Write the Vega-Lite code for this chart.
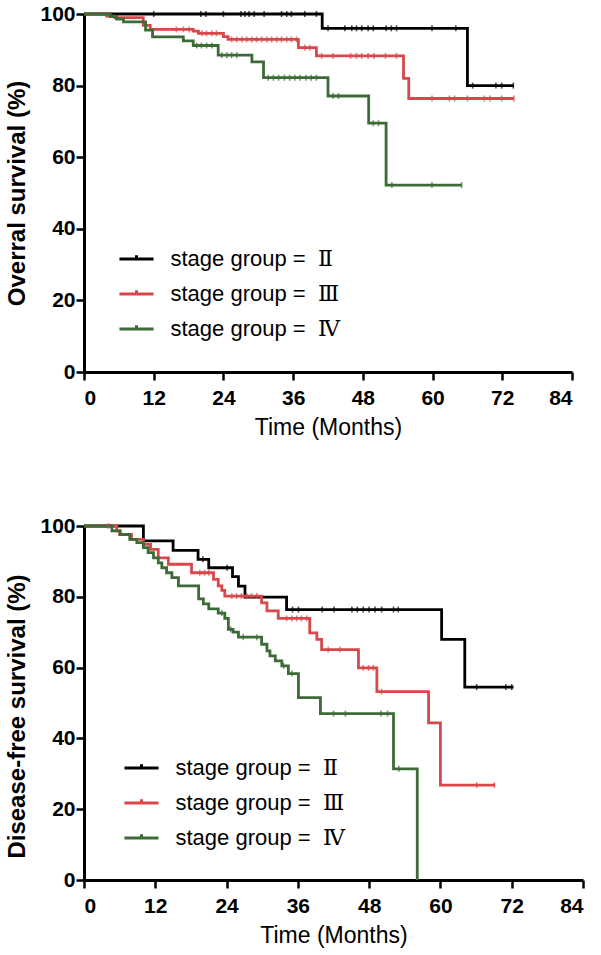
{
  "$schema": "https://vega.github.io/schema/vega-lite/v6.json",
  "padding": {"left": 5, "top": 3, "right": 5, "bottom": 5},
  "spacing": 76,
  "background": "white",
  "config": {
    "view": {"stroke": null},
    "axis": {
      "grid": false,
      "domainColor": "black",
      "domainWidth": 3,
      "tickColor": "black",
      "tickWidth": 2.5,
      "tickSize": 8,
      "labelFont": "Liberation Sans",
      "labelFontWeight": "bold",
      "labelFontSize": 21,
      "labelColor": "black",
      "titleFont": "Liberation Sans",
      "titleColor": "black",
      "titleFontSize": 23
    },
    "legend": {"labelLimit": 400}
  },
  "datasets": {
    "os_lines": [
      {"g": "Ⅱ", "t": 0, "s": 100}, {"g": "Ⅱ", "t": 41, "s": 96}, {"g": "Ⅱ", "t": 66, "s": 80}, {"g": "Ⅱ", "t": 74, "s": 80},
      {"g": "Ⅲ", "t": 0, "s": 100}, {"g": "Ⅲ", "t": 3.9, "s": 99.4}, {"g": "Ⅲ", "t": 5.3, "s": 99.0}, {"g": "Ⅲ", "t": 10.2, "s": 96.8},
      {"g": "Ⅲ", "t": 11.4, "s": 95.7}, {"g": "Ⅲ", "t": 18.8, "s": 95.2}, {"g": "Ⅲ", "t": 19.7, "s": 94.6}, {"g": "Ⅲ", "t": 24, "s": 93.7},
      {"g": "Ⅲ", "t": 24.8, "s": 92.9}, {"g": "Ⅲ", "t": 36.9, "s": 90.6}, {"g": "Ⅲ", "t": 40, "s": 88.3}, {"g": "Ⅲ", "t": 55, "s": 82},
      {"g": "Ⅲ", "t": 55.9, "s": 76.4}, {"g": "Ⅲ", "t": 74, "s": 76.4},
      {"g": "Ⅳ", "t": 0, "s": 100}, {"g": "Ⅳ", "t": 4.5, "s": 99.3}, {"g": "Ⅳ", "t": 5.6, "s": 98.6}, {"g": "Ⅳ", "t": 6.8, "s": 97.8},
      {"g": "Ⅳ", "t": 10.6, "s": 95.5}, {"g": "Ⅳ", "t": 11.8, "s": 93.6}, {"g": "Ⅳ", "t": 17.1, "s": 92.5}, {"g": "Ⅳ", "t": 18.8, "s": 91.2},
      {"g": "Ⅳ", "t": 23.1, "s": 88.5}, {"g": "Ⅳ", "t": 28.9, "s": 86.6}, {"g": "Ⅳ", "t": 30.9, "s": 82.2}, {"g": "Ⅳ", "t": 42, "s": 77.1},
      {"g": "Ⅳ", "t": 49, "s": 69.5}, {"g": "Ⅳ", "t": 52, "s": 52.2}, {"g": "Ⅳ", "t": 65, "s": 52.2}
    ],
    "os_cens": [
      {"g": "Ⅱ", "t": 12, "s": 100}, {"g": "Ⅱ", "t": 20.1, "s": 100}, {"g": "Ⅱ", "t": 21, "s": 100}, {"g": "Ⅱ", "t": 24, "s": 100},
      {"g": "Ⅱ", "t": 27, "s": 100}, {"g": "Ⅱ", "t": 27.7, "s": 100}, {"g": "Ⅱ", "t": 28.4, "s": 100}, {"g": "Ⅱ", "t": 29.3, "s": 100},
      {"g": "Ⅱ", "t": 31, "s": 100}, {"g": "Ⅱ", "t": 34, "s": 100}, {"g": "Ⅱ", "t": 34.9, "s": 100}, {"g": "Ⅱ", "t": 35.7, "s": 100},
      {"g": "Ⅱ", "t": 38, "s": 100}, {"g": "Ⅱ", "t": 40, "s": 100},
      {"g": "Ⅱ", "t": 42, "s": 96}, {"g": "Ⅱ", "t": 44.9, "s": 96}, {"g": "Ⅱ", "t": 46.1, "s": 96}, {"g": "Ⅱ", "t": 46.9, "s": 96},
      {"g": "Ⅱ", "t": 47.8, "s": 96}, {"g": "Ⅱ", "t": 48.9, "s": 96}, {"g": "Ⅱ", "t": 49.8, "s": 96}, {"g": "Ⅱ", "t": 52, "s": 96},
      {"g": "Ⅱ", "t": 52.9, "s": 96}, {"g": "Ⅱ", "t": 53.8, "s": 96}, {"g": "Ⅱ", "t": 59.9, "s": 96}, {"g": "Ⅱ", "t": 64, "s": 96},
      {"g": "Ⅱ", "t": 66.9, "s": 80}, {"g": "Ⅱ", "t": 70.9, "s": 80}, {"g": "Ⅱ", "t": 71.9, "s": 80}, {"g": "Ⅱ", "t": 73.9, "s": 80},
      {"g": "Ⅲ", "t": 15.9, "s": 95.7}, {"g": "Ⅲ", "t": 17.1, "s": 95.7}, {"g": "Ⅲ", "t": 18.1, "s": 95.7},
      {"g": "Ⅲ", "t": 20.3, "s": 94.6}, {"g": "Ⅲ", "t": 21.1, "s": 94.6}, {"g": "Ⅲ", "t": 22, "s": 94.6}, {"g": "Ⅲ", "t": 22.8, "s": 94.6},
      {"g": "Ⅲ", "t": 25.4, "s": 92.9}, {"g": "Ⅲ", "t": 26.3, "s": 92.9}, {"g": "Ⅲ", "t": 27.2, "s": 92.9}, {"g": "Ⅲ", "t": 28.0, "s": 92.9},
      {"g": "Ⅲ", "t": 28.9, "s": 92.9}, {"g": "Ⅲ", "t": 29.7, "s": 92.9}, {"g": "Ⅲ", "t": 30.6, "s": 92.9}, {"g": "Ⅲ", "t": 31.5, "s": 92.9},
      {"g": "Ⅲ", "t": 32.3, "s": 92.9}, {"g": "Ⅲ", "t": 33.2, "s": 92.9}, {"g": "Ⅲ", "t": 34.0, "s": 92.9}, {"g": "Ⅲ", "t": 34.9, "s": 92.9},
      {"g": "Ⅲ", "t": 35.7, "s": 92.9}, {"g": "Ⅲ", "t": 36.6, "s": 92.9},
      {"g": "Ⅲ", "t": 38, "s": 90.6}, {"g": "Ⅲ", "t": 38.9, "s": 90.6},
      {"g": "Ⅲ", "t": 40.9, "s": 88.3}, {"g": "Ⅲ", "t": 42.9, "s": 88.3}, {"g": "Ⅲ", "t": 45.9, "s": 88.3}, {"g": "Ⅲ", "t": 46.9, "s": 88.3},
      {"g": "Ⅲ", "t": 47.8, "s": 88.3}, {"g": "Ⅲ", "t": 48.9, "s": 88.3}, {"g": "Ⅲ", "t": 49.9, "s": 88.3}, {"g": "Ⅲ", "t": 51.9, "s": 88.3},
      {"g": "Ⅲ", "t": 53.8, "s": 88.3},
      {"g": "Ⅲ", "t": 59.9, "s": 76.4}, {"g": "Ⅲ", "t": 62.9, "s": 76.4}, {"g": "Ⅲ", "t": 63.8, "s": 76.4}, {"g": "Ⅲ", "t": 66, "s": 76.4},
      {"g": "Ⅲ", "t": 68.9, "s": 76.4}, {"g": "Ⅲ", "t": 69.9, "s": 76.4}, {"g": "Ⅲ", "t": 71.9, "s": 76.4}, {"g": "Ⅲ", "t": 74, "s": 76.4},
      {"g": "Ⅳ", "t": 19.4, "s": 91.2}, {"g": "Ⅳ", "t": 20.2, "s": 91.2}, {"g": "Ⅳ", "t": 21.1, "s": 91.2}, {"g": "Ⅳ", "t": 22.0, "s": 91.2},
      {"g": "Ⅳ", "t": 23.7, "s": 88.5}, {"g": "Ⅳ", "t": 24.6, "s": 88.5}, {"g": "Ⅳ", "t": 25.4, "s": 88.5}, {"g": "Ⅳ", "t": 26.3, "s": 88.5},
      {"g": "Ⅳ", "t": 31.7, "s": 82.2}, {"g": "Ⅳ", "t": 32.6, "s": 82.2}, {"g": "Ⅳ", "t": 33.5, "s": 82.2}, {"g": "Ⅳ", "t": 34.5, "s": 82.2},
      {"g": "Ⅳ", "t": 35.4, "s": 82.2}, {"g": "Ⅳ", "t": 36.3, "s": 82.2}, {"g": "Ⅳ", "t": 37.2, "s": 82.2}, {"g": "Ⅳ", "t": 38.2, "s": 82.2},
      {"g": "Ⅳ", "t": 39.1, "s": 82.2}, {"g": "Ⅳ", "t": 40.0, "s": 82.2},
      {"g": "Ⅳ", "t": 42.9, "s": 77.1}, {"g": "Ⅳ", "t": 43.8, "s": 77.1},
      {"g": "Ⅳ", "t": 49.8, "s": 69.5}, {"g": "Ⅳ", "t": 50.7, "s": 69.5},
      {"g": "Ⅳ", "t": 53, "s": 52.2}, {"g": "Ⅳ", "t": 59.9, "s": 52.2}, {"g": "Ⅳ", "t": 65, "s": 52.2}
    ],
    "dfs_lines": [
      {"g": "Ⅱ", "t": 0, "s": 100}, {"g": "Ⅱ", "t": 10.0, "s": 95.8}, {"g": "Ⅱ", "t": 15.0, "s": 93.1}, {"g": "Ⅱ", "t": 19.2, "s": 90.6},
      {"g": "Ⅱ", "t": 21.0, "s": 88.2}, {"g": "Ⅱ", "t": 25.0, "s": 85.7}, {"g": "Ⅱ", "t": 26.0, "s": 83.0}, {"g": "Ⅱ", "t": 27.1, "s": 79.9},
      {"g": "Ⅱ", "t": 34.1, "s": 76.4}, {"g": "Ⅱ", "t": 60.2, "s": 68.0}, {"g": "Ⅱ", "t": 64.1, "s": 54.5}, {"g": "Ⅱ", "t": 72.3, "s": 54.5},
      {"g": "Ⅲ", "t": 0, "s": 100}, {"g": "Ⅲ", "t": 5.5, "s": 98.6}, {"g": "Ⅲ", "t": 6.0, "s": 97.6}, {"g": "Ⅲ", "t": 8.0, "s": 96.2},
      {"g": "Ⅲ", "t": 10.0, "s": 94.8}, {"g": "Ⅲ", "t": 11.2, "s": 93.4}, {"g": "Ⅲ", "t": 12.5, "s": 91.0}, {"g": "Ⅲ", "t": 14.2, "s": 89.2},
      {"g": "Ⅲ", "t": 18.1, "s": 86.8}, {"g": "Ⅲ", "t": 21.8, "s": 84.9}, {"g": "Ⅲ", "t": 22.6, "s": 83.1}, {"g": "Ⅲ", "t": 23.2, "s": 81.8},
      {"g": "Ⅲ", "t": 23.7, "s": 80.2}, {"g": "Ⅲ", "t": 29.9, "s": 78.3}, {"g": "Ⅲ", "t": 30.8, "s": 76.0}, {"g": "Ⅲ", "t": 32.7, "s": 73.9},
      {"g": "Ⅲ", "t": 38.0, "s": 69.8}, {"g": "Ⅲ", "t": 39.2, "s": 68.0}, {"g": "Ⅲ", "t": 40.0, "s": 65.1}, {"g": "Ⅲ", "t": 46.2, "s": 59.9},
      {"g": "Ⅲ", "t": 49.3, "s": 53.2}, {"g": "Ⅲ", "t": 58.0, "s": 44.4}, {"g": "Ⅲ", "t": 60.0, "s": 26.8}, {"g": "Ⅲ", "t": 69.2, "s": 26.8},
      {"g": "Ⅳ", "t": 0, "s": 100}, {"g": "Ⅳ", "t": 4.7, "s": 98.6}, {"g": "Ⅳ", "t": 6.1, "s": 97.6}, {"g": "Ⅳ", "t": 7.7, "s": 96.2},
      {"g": "Ⅳ", "t": 8.9, "s": 95.3}, {"g": "Ⅳ", "t": 10.0, "s": 93.9}, {"g": "Ⅳ", "t": 10.8, "s": 92.5}, {"g": "Ⅳ", "t": 11.7, "s": 91.0},
      {"g": "Ⅳ", "t": 12.5, "s": 89.6}, {"g": "Ⅳ", "t": 13.1, "s": 88.2}, {"g": "Ⅳ", "t": 13.9, "s": 86.8}, {"g": "Ⅳ", "t": 14.8, "s": 85.4},
      {"g": "Ⅳ", "t": 15.9, "s": 83.1}, {"g": "Ⅳ", "t": 19.3, "s": 79.4}, {"g": "Ⅳ", "t": 20.1, "s": 78.0}, {"g": "Ⅳ", "t": 21.0, "s": 76.6},
      {"g": "Ⅳ", "t": 22.6, "s": 75.4}, {"g": "Ⅳ", "t": 23.7, "s": 73.9}, {"g": "Ⅳ", "t": 24.3, "s": 70.8}, {"g": "Ⅳ", "t": 25.1, "s": 70.0},
      {"g": "Ⅳ", "t": 26.0, "s": 68.6}, {"g": "Ⅳ", "t": 29.9, "s": 66.6}, {"g": "Ⅳ", "t": 30.8, "s": 64.7}, {"g": "Ⅳ", "t": 31.3, "s": 63.3},
      {"g": "Ⅳ", "t": 32.2, "s": 61.9}, {"g": "Ⅳ", "t": 33.3, "s": 60.5}, {"g": "Ⅳ", "t": 34.4, "s": 58.3}, {"g": "Ⅳ", "t": 36.1, "s": 51.5},
      {"g": "Ⅳ", "t": 39.8, "s": 47.0}, {"g": "Ⅳ", "t": 52.1, "s": 31.4}, {"g": "Ⅳ", "t": 56.1, "s": 0}
    ],
    "dfs_cens": [
      {"g": "Ⅱ", "t": 20.0, "s": 90.6}, {"g": "Ⅱ", "t": 24.1, "s": 88.2},
      {"g": "Ⅱ", "t": 35.1, "s": 76.4}, {"g": "Ⅱ", "t": 36.1, "s": 76.4}, {"g": "Ⅱ", "t": 40.1, "s": 76.4}, {"g": "Ⅱ", "t": 42.1, "s": 76.4},
      {"g": "Ⅱ", "t": 45.1, "s": 76.4}, {"g": "Ⅱ", "t": 46.0, "s": 76.4}, {"g": "Ⅱ", "t": 47.0, "s": 76.4}, {"g": "Ⅱ", "t": 48.0, "s": 76.4},
      {"g": "Ⅱ", "t": 49.0, "s": 76.4}, {"g": "Ⅱ", "t": 50.1, "s": 76.4}, {"g": "Ⅱ", "t": 52.1, "s": 76.4}, {"g": "Ⅱ", "t": 52.9, "s": 76.4},
      {"g": "Ⅱ", "t": 66.1, "s": 54.5}, {"g": "Ⅱ", "t": 71.0, "s": 54.5}, {"g": "Ⅱ", "t": 72.0, "s": 54.5},
      {"g": "Ⅲ", "t": 4.1, "s": 100}, {"g": "Ⅲ", "t": 19.5, "s": 86.8}, {"g": "Ⅲ", "t": 20.3, "s": 86.8}, {"g": "Ⅲ", "t": 21.0, "s": 86.8},
      {"g": "Ⅲ", "t": 24.9, "s": 80.2}, {"g": "Ⅲ", "t": 25.7, "s": 80.2}, {"g": "Ⅲ", "t": 26.5, "s": 80.2}, {"g": "Ⅲ", "t": 27.4, "s": 80.2},
      {"g": "Ⅲ", "t": 28.2, "s": 80.2}, {"g": "Ⅲ", "t": 29.1, "s": 80.2},
      {"g": "Ⅲ", "t": 34.1, "s": 73.9}, {"g": "Ⅲ", "t": 35.0, "s": 73.9}, {"g": "Ⅲ", "t": 35.8, "s": 73.9}, {"g": "Ⅲ", "t": 36.6, "s": 73.9},
      {"g": "Ⅲ", "t": 37.5, "s": 73.9},
      {"g": "Ⅲ", "t": 41.1, "s": 65.1}, {"g": "Ⅲ", "t": 43.1, "s": 65.1},
      {"g": "Ⅲ", "t": 47.0, "s": 59.9}, {"g": "Ⅲ", "t": 47.9, "s": 59.9}, {"g": "Ⅲ", "t": 48.7, "s": 59.9},
      {"g": "Ⅲ", "t": 50.1, "s": 53.2}, {"g": "Ⅲ", "t": 66.1, "s": 26.8}, {"g": "Ⅲ", "t": 69.1, "s": 26.8},
      {"g": "Ⅳ", "t": 23.2, "s": 75.4}, {"g": "Ⅳ", "t": 24.7, "s": 70.8}, {"g": "Ⅳ", "t": 26.8, "s": 68.6}, {"g": "Ⅳ", "t": 29.1, "s": 68.6},
      {"g": "Ⅳ", "t": 33.6, "s": 60.5}, {"g": "Ⅳ", "t": 35.0, "s": 58.3},
      {"g": "Ⅳ", "t": 42.0, "s": 47.0}, {"g": "Ⅳ", "t": 44.0, "s": 47.0}, {"g": "Ⅳ", "t": 50.0, "s": 47.0}, {"g": "Ⅳ", "t": 51.1, "s": 47.0},
      {"g": "Ⅳ", "t": 53.0, "s": 31.4}
    ]
  },
  "vconcat": [
    {
      "width": 488,
      "height": 358,
      "layer": [
        {
          "data": {"name": "os_lines"},
          "mark": {"type": "line", "interpolate": "step-after", "strokeWidth": 2.8},
          "encoding": {
            "x": {"field": "t", "type": "quantitative", "scale": {"domain": [0, 84], "nice": false},
                  "axis": {"values": [0, 12, 24, 36, 48, 60, 72, 84], "title": "Time (Months)", "titleFontWeight": "normal", "labelPadding": 7, "titlePadding": 8}},
            "y": {"field": "s", "type": "quantitative", "scale": {"domain": [0, 100], "nice": false},
                  "axis": {"values": [0, 20, 40, 60, 80, 100], "title": "Overral survival (%)", "titleFontWeight": "bold", "titleFontSize": 24, "labelPadding": 1, "titlePadding": 10}},
            "color": {"field": "g", "type": "nominal",
                      "scale": {"domain": ["Ⅱ", "Ⅲ", "Ⅳ"], "range": ["#000000", "#d9474b", "#3d6b37"]},
                      "legend": {"orient": "none", "legendX": 35.5, "legendY": 228, "title": null, "padding": 0,
                                 "symbolType": "M-1.1,0H1.1M0,0V-0.25", "symbolSize": 961, "symbolStrokeWidth": 3,
                                 "labelFontSize": 22, "labelFont": "Liberation Sans, DejaVu Serif", "labelColor": "black",
                                 "labelOffset": 17, "rowPadding": 7, "labelLimit": 400,
                                 "labelExpr": "'stage group = \u00a0' + datum.label"}}
          }
        },
        {
          "data": {"name": "os_cens"},
          "mark": {"type": "tick", "orient": "vertical", "size": 6, "thickness": 1.6},
          "encoding": {
            "x": {"field": "t", "type": "quantitative"},
            "y": {"field": "s", "type": "quantitative"},
            "color": {"field": "g", "type": "nominal", "legend": null}
          }
        }
      ]
    },
    {
      "width": 499,
      "height": 354,
      "layer": [
        {
          "data": {"name": "dfs_lines"},
          "mark": {"type": "line", "interpolate": "step-after", "strokeWidth": 2.8},
          "encoding": {
            "x": {"field": "t", "type": "quantitative", "scale": {"domain": [0, 84], "nice": false},
                  "axis": {"values": [0, 12, 24, 36, 48, 60, 72, 84], "title": "Time (Months)", "titleFontWeight": "normal", "labelPadding": 7, "titlePadding": 8}},
            "y": {"field": "s", "type": "quantitative", "scale": {"domain": [0, 100], "nice": false},
                  "axis": {"values": [0, 20, 40, 60, 80, 100], "title": "Disease-free survival (%)", "titleFontWeight": "bold", "titleFontSize": 24, "labelPadding": 1, "titlePadding": 10, "titleY": 190}},
            "color": {"field": "g", "type": "nominal",
                      "scale": {"domain": ["Ⅱ", "Ⅲ", "Ⅳ"], "range": ["#000000", "#d9474b", "#3d6b37"]},
                      "legend": {"orient": "none", "legendX": 40.5, "legendY": 225, "title": null, "padding": 0,
                                 "symbolType": "M-1.1,0H1.1M0,0V-0.25", "symbolSize": 961, "symbolStrokeWidth": 3,
                                 "labelFontSize": 22, "labelFont": "Liberation Sans, DejaVu Serif", "labelColor": "black",
                                 "labelOffset": 17, "rowPadding": 7, "labelLimit": 400,
                                 "labelExpr": "'stage group = \u00a0' + datum.label"}}
          }
        },
        {
          "data": {"name": "dfs_cens"},
          "mark": {"type": "tick", "orient": "vertical", "size": 6, "thickness": 1.6},
          "encoding": {
            "x": {"field": "t", "type": "quantitative"},
            "y": {"field": "s", "type": "quantitative"},
            "color": {"field": "g", "type": "nominal", "legend": null}
          }
        }
      ]
    }
  ],
  "resolve": {"scale": {"color": "independent"}, "legend": {"color": "independent"}}
}
